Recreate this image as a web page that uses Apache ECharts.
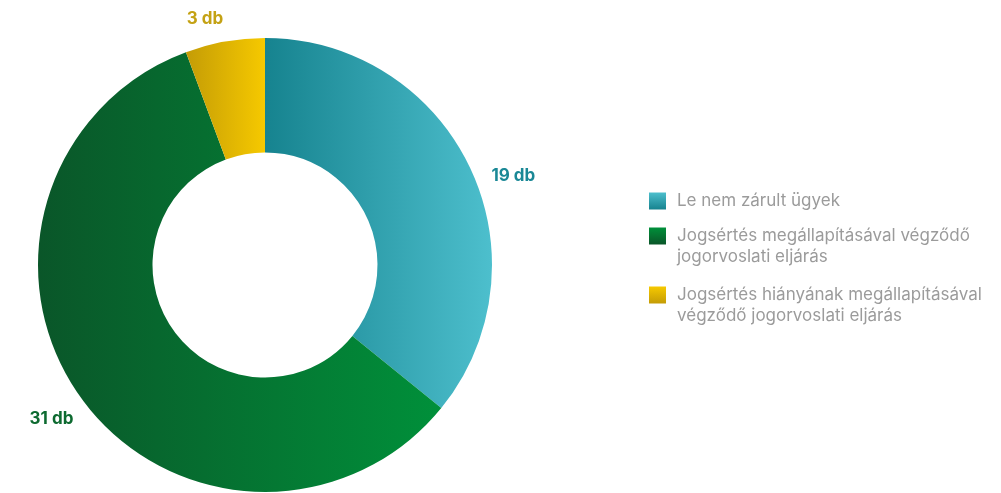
<!DOCTYPE html>
<html>
<head>
<meta charset="utf-8">
<script src="https://cdn.jsdelivr.net/npm/echarts@6/dist/echarts.min.js"></script>
<style>
html,body{margin:0;padding:0;background:#fff;}
#chart{width:1001px;height:493px;}
</style>
</head>
<body>
<div id="chart"></div>
<script>
const categories = [
  'Le nem zárult ügyek',
  'Jogsértés megállapításával végződő jogorvoslati eljárás',
  'Jogsértés hiányának megállapításával végződő jogorvoslati eljárás'
];
const legendLines = [
  ['Le nem zárult ügyek'],
  ['Jogsértés megállapításával végződő', 'jogorvoslati eljárás'],
  ['Jogsértés hiányának megállapításával', 'végződő jogorvoslati eljárás']
];
const values = [19, 31, 3];
const unit = 'db';

const sliceColors = [
  ['#16838f', '#4dbfcd'],
  ['#0a5629', '#00903a'],
  ['#c49c06', '#f6c900']
];
const labelColors = ['#1a8896', '#0d6a30', '#c4a214'];
const labelShift = [[-27, 15], [40, 13], [36, -8]];

function hGrad(c) {
  return new echarts.graphic.LinearGradient(0, 0, 1, 0, [{offset: 0, color: c[0]}, {offset: 1, color: c[1]}]);
}
function vGrad(c) {
  return new echarts.graphic.LinearGradient(0, 0, 0, 1, [{offset: 0, color: c[1]}, {offset: 1, color: c[0]}]);
}

const chart = echarts.init(document.getElementById('chart'));
chart.setOption({
  animation: false,
  backgroundColor: '#ffffff',
  legend: {
    orient: 'vertical',
    left: 644,
    top: 185.5,
    itemWidth: 17,
    itemHeight: 17,
    itemGap: -10,
    icon: 'rect',
    selectedMode: false,
    textStyle: {
      fontFamily: 'Inter',
      fontSize: 17,
      lineHeight: 21,
      color: '#9b9b9b',
      backgroundColor: 'rgba(0,0,0,0)',
      rich: {
        t: {fontFamily: 'Inter', fontSize: 17, lineHeight: 21, color: '#9b9b9b', padding: [0, 0, 0, 6]},
        p: {fontSize: 1, lineHeight: 24},
        q: {fontSize: 1, lineHeight: 3}
      }
    },
    formatter: function (name) {
      const lines = legendLines[categories.indexOf(name)];
      const body = lines.map(function (l) { return '{t|' + l + '}'; }).join('\n');
      return lines.length > 1 ? '{p|\u00a0}\n' + body + '\n{q|\u00a0}' : body;
    },
    data: categories.map(function (n, i) {
      return {name: n, itemStyle: {color: vGrad(sliceColors[i])}};
    })
  },
  series: [{
    type: 'pie',
    center: [265, 265],
    radius: [112.5, 227],
    startAngle: 90,
    clockwise: true,
    avoidLabelOverlap: false,
    label: {
      show: true,
      position: 'outside',
      fontFamily: 'Inter',
      fontSize: 17,
      fontWeight: 'bold',
      formatter: function (p) { return p.value + ' ' + unit; }
    },
    labelLine: {show: false},
    labelLayout: function (p) {
      return {dx: labelShift[p.dataIndex][0], dy: labelShift[p.dataIndex][1]};
    },
    emphasis: {disabled: true},
    data: categories.map(function (n, i) {
      return {
        name: n,
        value: values[i],
        itemStyle: {color: hGrad(sliceColors[i])},
        label: {color: labelColors[i]}
      };
    })
  }]
});
</script>
</body>
</html>
